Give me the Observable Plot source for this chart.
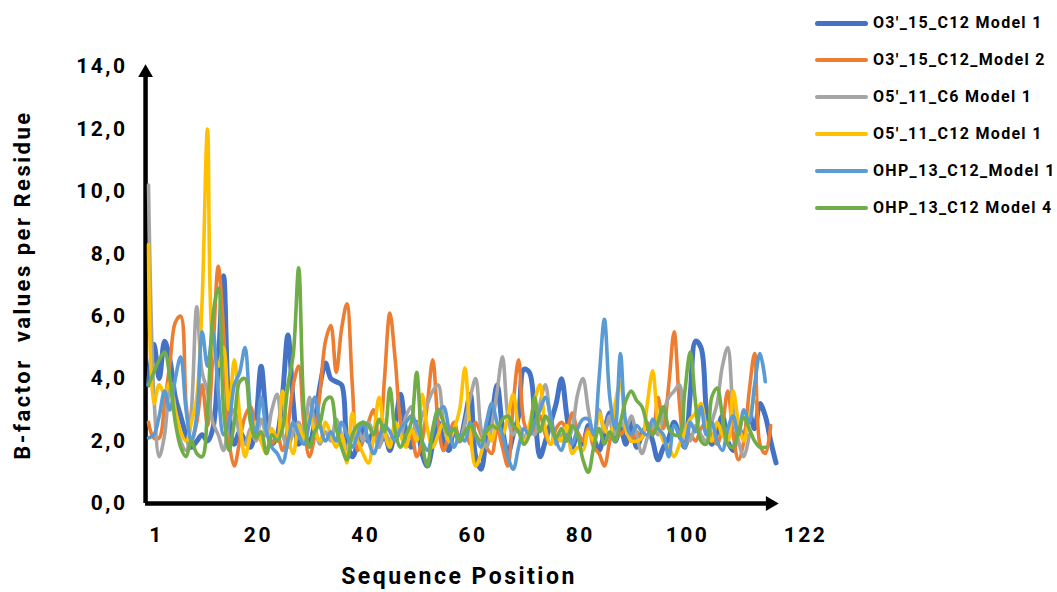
<!DOCTYPE html>
<html>
<head>
<meta charset="utf-8">
<script src="https://cdn.jsdelivr.net/npm/d3@7"></script>
<script src="https://cdn.jsdelivr.net/npm/@observablehq/plot@0.6"></script>
<style>
  html, body { margin: 0; padding: 0; background: #fff; }
  #wrap { position: relative; width: 1057px; height: 592px; font-family: Roboto, "DejaVu Sans", sans-serif; }
  #legend { position: absolute; left: 815px; top: 0px; }
  .row { position: absolute; left: 0; height: 20px; white-space: nowrap; }
  .swatch { position: absolute; left: 0; width: 53px; border-radius: 3px; }
  .lbl { position: absolute; left: 58px; top: 0; font-weight: bold; font-size: 16px; line-height: 20px; color: #000; letter-spacing: 1.3px; }
</style>
</head>
<body>
<div id="wrap"><div id="legend"></div></div>
<script>
const seriesNames = ["O3'_15_C12 Model 1", "O3'_15_C12_Model 2", "O5'_11_C6 Model 1", "O5'_11_C12 Model 1", "OHP_13_C12_Model 1", "OHP_13_C12 Model 4"];
const seriesColors = ["#4472C4", "#ED7D31", "#A5A5A5", "#FFC000", "#5B9BD5", "#70AD47"];
const xTicks = [1, 20, 40, 60, 80, 100, 122];
const yTicks = [0, 2, 4, 6, 8, 10, 12, 14];

const o3_15_m1 = [3.8,5.1,4.0,5.2,4.6,3.4,2.8,2.2,1.8,2.0,
  2.2,2.0,2.4,4.5,7.3,3.0,1.9,2.3,2.0,1.8,
  2.6,4.4,2.7,1.9,2.2,3.5,5.4,3.2,1.9,2.1,
  2.0,2.6,3.8,4.5,4.0,3.9,3.8,2.0,1.5,1.9,
  2.4,2.0,2.3,1.9,2.2,1.7,2.5,3.5,2.3,1.8,
  2.6,1.6,1.2,1.9,2.6,2.0,1.7,2.4,2.0,2.7,
  3.5,1.5,1.1,2.1,2.8,3.8,2.4,1.6,2.2,2.8,
  4.3,4.2,2.9,1.5,2.0,2.6,3.2,4.0,2.8,1.8,
  2.2,1.9,2.5,2.1,1.7,2.3,2.9,2.0,2.4,1.9,
  2.6,1.8,2.2,2.5,2.0,1.4,1.8,2.1,2.6,2.2,
  1.8,3.5,5.2,5.0,3.0,1.9,2.3,2.8,2.0,1.7,
  2.4,2.1,2.9,2.4,3.2,2.8,2.0,1.3];
const o3_15_m2 = [2.6,2.1,2.1,3.2,4.5,5.8,6.0,3.2,2.0,2.6,
  3.8,2.5,4.8,7.6,5.5,2.0,1.2,2.0,2.8,3.1,
  2.4,2.0,2.3,1.9,2.2,1.7,2.5,3.8,4.4,2.5,
  1.5,2.2,3.6,5.2,5.7,4.2,5.6,6.4,3.8,1.7,
  2.0,2.6,3.0,1.8,4.0,6.1,4.6,2.6,1.9,2.2,
  1.5,2.0,3.2,4.6,2.6,1.7,2.2,2.6,2.0,2.4,
  1.9,2.6,2.2,1.8,1.6,2.4,1.8,1.2,3.2,4.6,
  2.6,2.2,2.4,2.8,2.2,1.9,2.4,2.6,2.4,2.9,
  2.3,2.0,2.4,1.8,1.6,1.2,2.0,2.6,2.2,2.4,
  2.0,2.3,2.1,2.6,2.2,3.4,2.4,3.8,5.5,3.2,
  1.8,2.2,2.0,2.4,2.6,2.2,1.9,2.5,3.6,2.2,
  1.4,2.0,3.6,4.8,1.9,1.6,2.5];
const o5_11_c6_m1 = [10.2,3.5,1.5,2.2,3.7,2.8,2.0,1.7,3.0,6.3,
  4.2,3.6,2.6,2.2,1.7,2.6,3.0,2.2,1.9,2.4,
  2.0,2.7,2.2,3.0,3.5,2.2,1.8,2.3,2.6,2.1,
  3.4,2.5,1.9,2.3,2.0,2.7,2.2,1.8,2.1,2.4,
  2.0,2.6,2.2,1.8,2.3,2.0,2.5,2.2,2.8,3.1,
  2.2,2.8,3.2,3.6,3.8,2.6,2.0,2.4,2.0,2.6,
  3.4,4.0,2.4,1.8,2.5,3.6,4.7,2.8,2.2,2.5,
  2.1,2.4,2.2,3.2,3.8,2.6,1.9,2.2,2.0,2.4,
  3.5,4.0,3.0,2.2,3.0,2.3,2.8,2.2,2.6,2.4,
  2.8,2.2,1.6,2.1,2.5,2.2,2.9,3.4,3.6,3.8,
  2.4,2.0,2.5,2.2,2.0,2.6,3.2,4.4,5.0,3.0,
  2.0,1.5,2.2];
const o5_11_c12_m1 = [8.3,3.2,3.8,3.5,3.9,3.0,2.3,2.0,2.6,3.4,
  6.5,12.0,5.0,4.4,5.0,3.0,4.6,2.8,1.5,2.2,
  2.6,2.0,1.6,2.4,2.0,3.6,2.2,1.6,2.5,2.0,
  2.8,2.3,2.0,2.6,2.2,1.8,2.2,1.3,2.9,2.0,
  1.6,1.3,2.2,3.4,2.3,1.8,2.6,2.2,1.8,2.4,
  2.0,3.5,2.4,1.8,2.2,2.6,2.0,2.4,3.0,4.35,
  2.2,1.2,1.6,2.4,2.0,2.6,2.2,2.8,3.5,2.4,
  1.9,2.5,3.3,3.8,2.4,1.9,2.2,2.0,2.5,1.6,
  1.8,1.7,2.3,2.0,2.9,2.4,2.2,3.2,3.9,2.4,
  2.0,2.0,2.1,3.2,4.25,2.6,2.0,1.8,1.5,1.9,
  2.3,2.7,2.9,3.2,2.4,2.0,2.6,2.2,2.0,3.6,
  2.6,2.0,2.8,3.4];
const ohp_13_m1 = [2.1,2.2,2.8,3.6,3.0,4.0,4.7,3.0,2.0,2.8,
  5.5,4.4,5.5,3.6,2.2,2.6,3.8,4.2,5.0,3.0,
  2.2,3.4,2.3,1.8,1.6,1.3,2.0,2.6,2.2,1.9,
  2.6,3.4,2.5,2.0,2.3,2.0,2.6,2.2,1.8,2.2,
  2.6,2.0,1.6,2.1,2.5,2.3,2.0,2.4,2.6,2.8,
  2.5,2.0,1.7,2.3,2.9,3.1,2.4,1.8,2.2,2.0,
  2.6,2.2,1.8,2.6,3.2,2.6,2.2,1.5,1.1,1.8,
  2.4,2.2,2.6,3.0,3.4,2.8,2.0,1.7,2.2,1.9,
  2.4,2.7,2.7,2.2,4.0,5.9,3.4,2.4,4.8,2.6,
  2.2,2.5,2.3,2.2,2.7,2.4,2.2,1.5,2.5,2.2,
  1.8,2.6,2.3,3.1,2.2,2.6,2.0,1.7,2.4,2.8,
  2.2,3.0,2.6,3.8,4.8,3.9];
const ohp_13_m4 = [3.8,4.2,4.6,4.85,4.0,2.6,1.8,1.5,2.0,1.6,
  1.5,3.0,6.0,6.9,3.0,1.7,2.6,3.9,4.0,2.6,
  2.1,2.3,1.6,2.2,2.0,2.4,3.8,4.8,7.55,3.0,
  1.8,2.3,2.6,3.3,3.4,2.4,1.8,1.4,2.2,2.5,
  2.6,2.5,2.2,2.7,2.3,3.7,2.3,1.8,2.2,2.6,
  4.2,2.0,1.2,2.4,3.0,2.6,2.2,2.4,2.0,2.3,
  2.5,2.2,2.0,2.3,2.5,2.4,2.7,2.8,2.5,2.3,
  1.9,2.2,3.4,2.3,2.8,2.5,2.1,2.4,2.0,2.5,
  2.2,1.4,1.0,1.8,2.4,1.9,2.3,2.0,2.6,3.3,
  3.6,3.3,3.1,2.5,2.2,2.6,3.1,2.4,2.2,2.2,
  3.6,4.85,3.2,2.0,1.9,3.4,3.7,2.8,1.9,1.8,
  2.3,2.75,2.4,2.0,1.8,1.8];

const seriesValues = [o3_15_m1, o3_15_m2, o5_11_c6_m1, o5_11_c12_m1, ohp_13_m1, ohp_13_m4];
const table = seriesNames.flatMap((name, k) => seriesValues[k].map((v, i) => ({series: name, pos: i + 1, value: v})));

const fmt = d => d.toFixed(1).replace(".", ",");
const lineWidths = [5, 3.6, 3.6, 3.6, 3.6, 3.6];

const lineMarks = seriesNames.map((name, k) =>
  Plot.line(table.filter(d => d.series === name), {
    x: "pos", y: "value", stroke: seriesColors[k], strokeWidth: lineWidths[k],
    curve: "catmull-rom", strokeLinejoin: "round", strokeLinecap: "round"
  })
);

const axisX0 = 0.45;
const chart = Plot.plot({
  width: 1057, height: 592,
  marginLeft: 148, marginRight: 260, marginTop: 66, marginBottom: 89,
  style: {fontFamily: "Roboto, 'DejaVu Sans', sans-serif", fontWeight: "bold", fontSize: "21px", color: "#000", background: "transparent", letterSpacing: "2.5px"},
  x: {domain: [1, 122]},
  y: {domain: [0, 14]},
  marks: [
    Plot.axisX({ticks: xTicks, tickSize: 0, tickPadding: 24, dx: 8, label: null, tickFormat: d => String(d)}),
    Plot.axisY({ticks: yTicks, tickSize: 0, tickPadding: 21, label: null, tickFormat: fmt}),
    Plot.ruleY([0], {x1: axisX0, x2: 116.9, stroke: "#000", strokeWidth: 4.5}),
    Plot.ruleX([axisX0], {y1: 0, y2: 13.8, stroke: "#000", strokeWidth: 4.5}),
    Plot.dot([{x: axisX0, y: 13.8}], {x: "x", y: "y", symbol: "triangle", r: 5.5, fill: "#000", stroke: null}),
    Plot.dot([{x: 116.9, y: 0}], {x: "x", y: "y", symbol: "triangle", r: 5.5, fill: "#000", stroke: null, rotate: 90}),
    ...lineMarks,
    Plot.text(["Sequence Position"], {frameAnchor: "bottom", dx: -14, dy: 80, fontSize: 23, fontWeight: "bold", textAnchor: "middle"}),
    Plot.text(["B-factor\u00a0 values per Residue"], {frameAnchor: "left", dx: -126, rotate: -90, fontSize: 22, fontWeight: "bold", textAnchor: "middle"})
  ]
});
document.getElementById("wrap").prepend(chart);

const legend = document.getElementById("legend");
const rowY = [23, 60, 97, 134, 171, 208];
seriesNames.forEach((name, k) => {
  const row = document.createElement("div");
  row.className = "row";
  row.style.top = (rowY[k] - 10) + "px";
  const sw = document.createElement("div");
  sw.className = "swatch";
  const h = k === 0 ? 5 : 3.5;
  sw.style.height = h + "px";
  sw.style.top = (10 - h / 2) + "px";
  sw.style.background = seriesColors[k];
  const lb = document.createElement("div");
  lb.className = "lbl";
  lb.textContent = name;
  row.appendChild(sw);
  row.appendChild(lb);
  legend.appendChild(row);
});
</script>
</body>
</html>
